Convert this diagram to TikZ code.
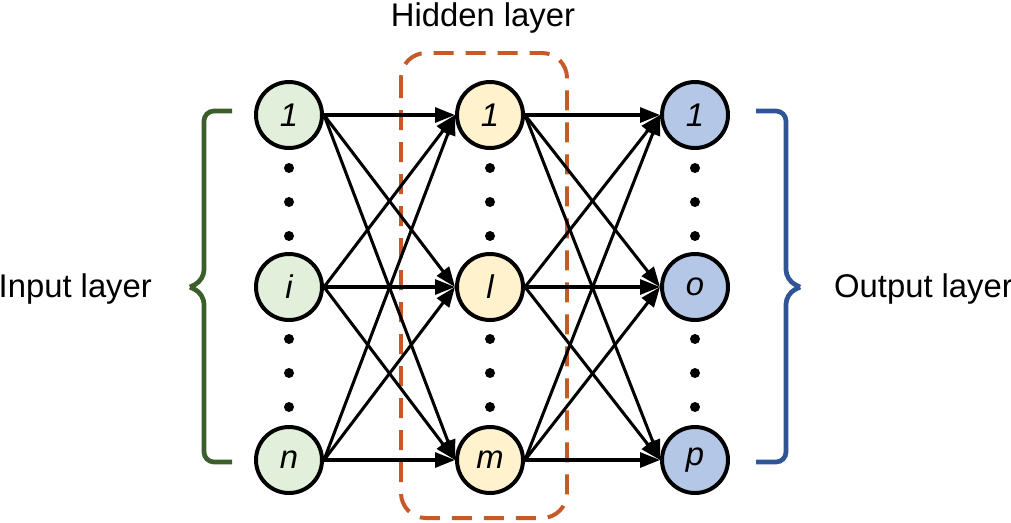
\documentclass[tikz,border=0pt]{standalone}
\usepackage{fontspec}
\setmainfont{Liberation Sans}
\usetikzlibrary{arrows.meta}
\definecolor{gin}{HTML}{E2EFDA}
\definecolor{yhid}{HTML}{FFF2CC}
\definecolor{bout}{HTML}{B4C7E7}
\definecolor{gbr}{HTML}{3B5E2B}
\definecolor{bbr}{HTML}{2F5597}
\definecolor{org}{HTML}{C55A28}
\begin{document}
\begin{tikzpicture}[x=0.03cm,y=-0.03cm,
  neu/.style={circle,draw=black,line width=3.4pt,minimum size=1.98cm,inner sep=0pt,font=\fontsize{28}{32}\selectfont\itshape},
  con/.style={line width=2.6pt,-{Triangle[length=0.6cm,width=0.45cm]}},
  lab/.style={font=\fontsize{28}{32}\selectfont},
  dot/.style={circle,fill=black,inner sep=0pt,minimum size=0.3cm}]
\useasboundingbox (0,0) rectangle (1011,522);
\draw[org,line width=3.4pt,dash pattern=on 0.6cm off 0.36cm,rounded corners=0.75cm] (401,53) rectangle (567,518);
\node[lab] (hl) at (483,18) {Hidden layer};
\foreach \n/\t/\y in {a/1/115,b/i/287,c/n/460}{\node[neu,fill=gin] (i\n) at (289,\y) {\t};}
\foreach \n/\t/\y in {a/1/115,b/l/287,c/m/460}{\node[neu,fill=yhid] (h\n) at (490,\y) {\t};}
\foreach \n/\t/\y in {a/1/115,b/o/287,c/p/460}{\node[neu,fill=bout] (o\n) at (695,\y) {\t};}
\foreach \x in {289,490,695}{
  \foreach \y in {168,202,236,339,373,407}{\node[dot] (d\x-\y) at (\x,\y) {};}}
\foreach \s in {a,b,c}{\foreach \t in {a,b,c}{
  \draw[con] (i\s.east) -- (h\t.west);
  \draw[con] (h\s.east) -- (o\t.west);}}
\draw[gbr,line width=4pt,rounded corners=0.3cm] (232,111) -- (204,111) -- (204,280) -- (190,287);
\draw[gbr,line width=4pt,rounded corners=0.3cm] (190,287) -- (204,294) -- (204,462) -- (232,462);
\draw[bbr,line width=4pt,rounded corners=0.3cm] (756,111) -- (786,111) -- (786,280) -- (800,287);
\draw[bbr,line width=4pt,rounded corners=0.3cm] (800,287) -- (786,294) -- (786,462) -- (756,462);
\node[lab,anchor=east] (il) at (156,289) {Input layer};
\node[lab,anchor=west] (ol) at (830,289) {Output layer};
\end{tikzpicture}
\end{document}
